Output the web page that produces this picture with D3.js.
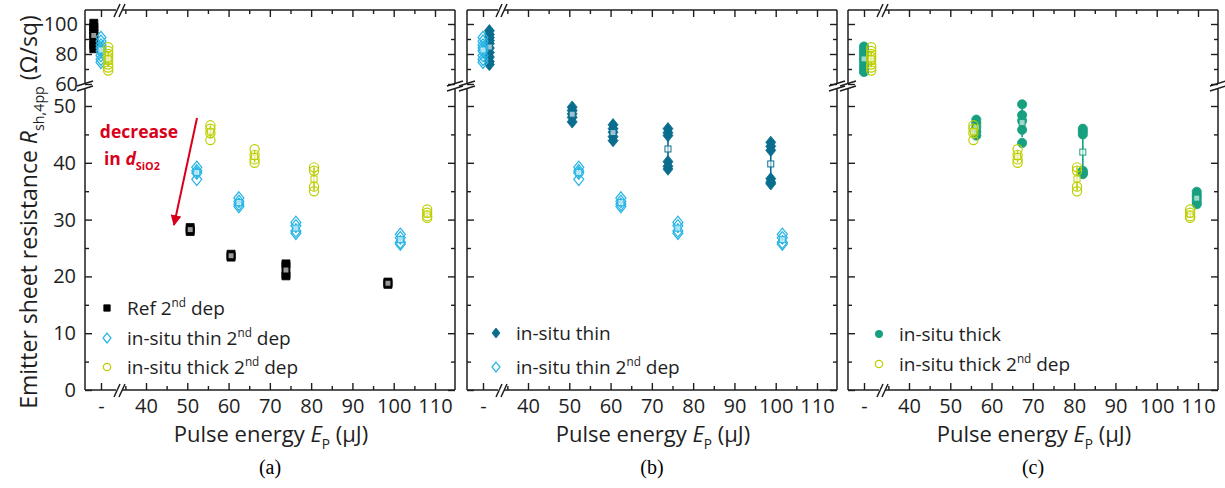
<!DOCTYPE html>
<html>
<head>
<meta charset="utf-8">
<script src="https://cdn.jsdelivr.net/npm/d3@7"></script>
<style>
  body { margin: 0; background: #fff; }
  svg { display: block; font-family: "Open Sans", sans-serif; }
</style>
</head>
<body>
<svg id="chart" width="1225" height="488"></svg>
<script>
// ---- data: pulse energy (uJ) and measured R_sh per laser spot ----
const refEnergy = [50.7, 60.6, 73.9, 98.6];
const refValues = [[28.6, 28.2, 27.9], [23.9, 23.6, 23.4], [22.2, 21.8, 20.4, 20.1], [19.0, 18.8, 18.6]];
const refUntreated = [100.5, 98, 96, 94, 92, 89, 86, 83.5];

const thin2Energy = [52.3, 62.5, 76.3, 101.6];
const thin2Values = [[39.2, 38.6, 38.2, 37.1], [33.8, 33.2, 32.7, 32.3], [29.5, 28.9, 28.0, 27.6], [27.4, 26.8, 26.0, 25.7]];
const thin2Untreated = [91, 88.5, 86, 84, 82, 79, 76.5, 74.5];

const thick2Energy = [55.6, 66.3, 80.7, 108.1];
const thick2Values = [[46.6, 46.0, 45.2, 44.0], [42.4, 41.4, 40.6, 40.0], [39.2, 38.6, 35.8, 35.0], [31.8, 31.2, 30.6, 30.3]];
const thick2Untreated = [84.5, 82, 80, 78, 76, 73, 71, 69];

const thinEnergy = [50.7, 60.6, 73.9, 98.8];
const thinValues = [[49.8, 49.2, 48.6, 48.0, 47.2], [46.7, 46.0, 45.4, 44.6, 43.9], [46.0, 45.3, 44.8, 40.2, 39.4, 38.9], [43.6, 42.9, 42.2, 37.2, 36.6, 36.3]];
const thinUntreated = [95.5, 93, 91, 89, 87, 84, 81, 78, 75, 73];

const thickEnergy = [56.3, 67.4, 82.1, 109.7];
const thickValues = [[47.6, 47.0, 46.3, 45.5, 44.8], [50.3, 48.4, 47.4, 45.8, 43.5], [46.0, 45.5, 45.0, 38.6, 38.2, 38.0], [34.9, 34.3, 33.8, 33.2, 32.7]];
const thickUntreated = [85, 83, 81, 79, 77, 75, 72.5, 70, 68];

// slot of each series inside the "-" (no laser) category
const untreatedSlot = { ref: -0.45, thin2: 0, thin: 0.4, thick: 0, thick2: 0.45 };

const energyTicks = [40, 50, 60, 70, 80, 90, 100, 110];
const energyMinor = [35, 45, 55, 65, 75, 85, 95, 105];
const lowTicks = [0, 10, 20, 30, 40, 50];
const lowMinor = [5, 15, 25, 35, 45];
const upTicks = [60, 80, 100];
const upMinor = [70, 90];

const series = {
  ref:    { color: "#000000", shape: "square",  filled: true,  energy: refEnergy,    values: refValues,    untreated: refUntreated },
  thin2:  { color: "#27b4e4", shape: "diamond", filled: false, energy: thin2Energy,  values: thin2Values,  untreated: thin2Untreated },
  thick2: { color: "#bccf00", shape: "circle",  filled: false, energy: thick2Energy, values: thick2Values, untreated: thick2Untreated },
  thin:   { color: "#0a6d8e", shape: "diamond", filled: true,  energy: thinEnergy,   values: thinValues,   untreated: thinUntreated },
  thick:  { color: "#17a07f", shape: "circle",  filled: true,  energy: thickEnergy,  values: thickValues,  untreated: thickUntreated }
};

const panels = [
  { left: 85,  label: "(a)", draw: ["ref", "thin2", "thick2"],
    legend: [["ref", [["Ref 2"], ["nd", "sup"], [" dep"]]], ["thin2", [["in-situ thin 2"], ["nd", "sup"], [" dep"]]], ["thick2", [["in-situ thick 2"], ["nd", "sup"], [" dep"]]]],
    legX: 22, legY: [308, 338, 367] },
  { left: 467, label: "(b)", draw: ["thin", "thin2"],
    legend: [["thin", [["in-situ thin"]]], ["thin2", [["in-situ thin 2"], ["nd", "sup"], [" dep"]]]],
    legX: 29, legY: [333, 367] },
  { left: 848, label: "(c)", draw: ["thick", "thick2"],
    legend: [["thick", [["in-situ thick"]]], ["thick2", [["in-situ thick 2"], ["nd", "sup"], [" dep"]]]],
    legX: 31, legY: [334, 364] }
];

const W = 370, plotTop = 10, plotBottom = 390, upEnd = 83, lowStart = 89;
const ink = "#1e1e1e";
const svg = d3.select("#chart");

const yU = d3.scaleLinear().domain([60, 100]).range([84, 24]);
const yL = d3.scaleLinear().domain([0, 50]).range([plotBottom, 106]);

function markerPath(shape, scale) {
  if (shape === "square") { const h = 4 * scale; return `M${-h},${-h}h${2 * h}v${2 * h}h${-2 * h}Z`; }
  if (shape === "diamond") { const w = 5 * scale, h = 6.2 * scale; return `M0,${-h}L${w},0L0,${h}L${-w},0Z`; }
  return d3.symbol(d3.symbolCircle, Math.PI * Math.pow(4.6 * scale, 2))();
}

function rich(text, parts, size) {
  let shift = 0;
  parts.forEach(([t, kind]) => {
    const target = kind === "sup" ? -0.42 * size : kind === "sub" ? 0.3 * size : 0;
    const ts = text.append("tspan").attr("dy", target - shift).text(t);
    shift = target;
    if (kind === "sup" || kind === "sub") ts.attr("font-size", size * 0.62);
    if (kind === "it") ts.attr("font-style", "italic");
  });
}

function strip(g) { g.select(".domain").remove(); g.selectAll("text").attr("fill", ink).attr("font-family", "Open Sans"); g.selectAll("line").attr("stroke", ink).attr("stroke-width", 1.4); }

panels.forEach((p, pi) => {
  const L = p.left, R = L + W;
  const g = svg.append("g");
  const xR = d3.scaleLinear().domain([40, 110]).range([L + 61, L + 61 + 289]);
  const xC = d3.scaleLinear().domain([-1, 1]).range([L, L + 32]);

  // frame with breaks
  const frame = g.append("g").attr("stroke", ink).attr("stroke-width", 1.5).attr("fill", "none");
  [L, R].forEach(x => {
    frame.append("line").attr("x1", x).attr("x2", x).attr("y1", plotTop).attr("y2", upEnd);
    frame.append("line").attr("x1", x).attr("x2", x).attr("y1", lowStart).attr("y2", plotBottom);
    [0, 5].forEach(o => frame.append("line").attr("x1", x - 8).attr("x2", x + 8).attr("y1", 86 + o).attr("y2", 81 + o));
  });
  [plotTop, plotBottom].forEach(y => {
    frame.append("line").attr("x1", L).attr("x2", L + 31).attr("y1", y).attr("y2", y);
    frame.append("line").attr("x1", L + 37).attr("x2", R).attr("y1", y).attr("y2", y);
    [0, 5].forEach(o => frame.append("line").attr("x1", L + 29 + o).attr("x2", L + 35 + o).attr("y1", y + 7).attr("y2", y - 6));
  });

  // y axes (inward ticks)
  const lab = pi === 0;
  g.append("g").attr("transform", `translate(${L},0)`).call(d3.axisLeft(yL).tickValues(lowTicks).tickSize(-7).tickPadding(9).tickFormat(lab ? d3.format("d") : () => "")).call(strip);
  g.append("g").attr("transform", `translate(${L},0)`).call(d3.axisLeft(yL).tickValues(lowMinor).tickSize(-4).tickFormat("")).call(strip);
  g.append("g").attr("transform", `translate(${L},0)`).call(d3.axisLeft(yU).tickValues(upTicks).tickSize(-7).tickPadding(7).tickFormat(lab ? d3.format("d") : () => "")).call(strip);
  g.append("g").attr("transform", `translate(${L},0)`).call(d3.axisLeft(yU).tickValues(upMinor).tickSize(-4).tickFormat("")).call(strip);
  g.append("g").attr("transform", `translate(${R},0)`).call(d3.axisRight(yL).tickValues(lowTicks).tickSize(-7).tickFormat("")).call(strip);
  g.append("g").attr("transform", `translate(${R},0)`).call(d3.axisRight(yL).tickValues(lowMinor).tickSize(-4).tickFormat("")).call(strip);
  g.append("g").attr("transform", `translate(${R},0)`).call(d3.axisRight(yU).tickValues(upTicks).tickSize(-7).tickFormat("")).call(strip);
  g.append("g").attr("transform", `translate(${R},0)`).call(d3.axisRight(yU).tickValues(upMinor).tickSize(-4).tickFormat("")).call(strip);

  // x axes
  g.append("g").attr("transform", `translate(0,${plotBottom})`).call(d3.axisBottom(xR).tickValues(energyTicks).tickSize(-7).tickPadding(9).tickFormat(d3.format("d"))).call(strip);
  g.append("g").attr("transform", `translate(0,${plotBottom})`).call(d3.axisBottom(xR).tickValues(energyMinor).tickSize(-4).tickFormat("")).call(strip);
  g.append("g").attr("transform", `translate(0,${plotBottom})`).call(d3.axisBottom(xC).tickValues([0]).tickSize(-7).tickPadding(9).tickFormat(() => "-")).call(strip);
  g.append("g").attr("transform", `translate(0,${plotTop})`).call(d3.axisTop(xR).tickValues(energyTicks).tickSize(-7).tickFormat("")).call(strip);
  g.append("g").attr("transform", `translate(0,${plotTop})`).call(d3.axisTop(xR).tickValues(energyMinor).tickSize(-4).tickFormat("")).call(strip);
  g.append("g").attr("transform", `translate(0,${plotTop})`).call(d3.axisTop(xC).tickValues([0]).tickSize(-7).tickFormat("")).call(strip);
  g.selectAll(".tick text").attr("font-size", 20);

  // data
  p.draw.forEach(key => {
    const s = series[key];
    const clusters = s.energy.map((e, i) => ({ x: xR(e), vals: s.values[i], y: yL }));
    clusters.push({ x: xC(untreatedSlot[key]), vals: s.untreated, y: yU });
    const sg = g.append("g");
    clusters.forEach(c => {
      sg.selectAll(null).data(c.vals).join("path")
        .attr("d", markerPath(s.shape, 1))
        .attr("transform", v => `translate(${c.x},${c.y(v)})`)
        .attr("fill", s.filled ? s.color : "none")
        .attr("stroke", s.color).attr("stroke-width", s.filled ? 0.8 : 1.2);
      const m = d3.mean(c.vals), sd = d3.deviation(c.vals);
      sg.append("line").attr("x1", c.x).attr("x2", c.x).attr("y1", c.y(m - sd)).attr("y2", c.y(m + sd))
        .attr("stroke", s.color).attr("stroke-width", 1.6);
      sg.append("rect").attr("x", c.x - 3).attr("y", c.y(m) - 3).attr("width", 6).attr("height", 6)
        .attr("fill", "#fff").attr("fill-opacity", 0.6).attr("stroke", s.color).attr("stroke-width", 1);
    });
  });

  // legend
  p.legend.forEach(([key, parts], i) => {
    const s = series[key], y = p.legY[i];
    g.append("path").attr("d", markerPath(s.shape, 0.8)).attr("transform", `translate(${L + p.legX},${y})`)
      .attr("fill", s.filled ? s.color : "none").attr("stroke", s.color).attr("stroke-width", s.filled ? 0.8 : 1.2);
    const t = g.append("text").attr("x", L + p.legX + 20).attr("y", y + 7).attr("font-size", 19).attr("fill", ink);
    rich(t, parts, 19);
  });

  // titles
  const xt = g.append("text").attr("x", L + W / 2 + 1).attr("y", 442).attr("text-anchor", "middle").attr("font-size", 22).attr("fill", ink);
  rich(xt, [["Pulse energy "], ["E", "it"], ["P", "sub"], [" (μJ)"]], 22);
  g.append("text").attr("x", L + W / 2).attr("y", 474).attr("text-anchor", "middle")
    .attr("font-family", "Liberation Serif").attr("font-size", 20).attr("fill", "#000").text(p.label);
});

// y title
const yt = svg.append("text").attr("transform", "translate(37,212) rotate(-90)").attr("text-anchor", "middle")
  .attr("font-size", 23).attr("fill", ink);
rich(yt, [["Emitter sheet resistance "], ["R", "it"], ["sh,4pp", "sub"], [" (Ω/sq)"]], 23);

// annotation
const red = "#d9001b";
svg.append("text").attr("x", 139).attr("y", 138).attr("text-anchor", "middle").attr("font-size", 17.5)
  .attr("font-weight", "bold").attr("fill", red).text("decrease");
const ann = svg.append("text").attr("x", 104).attr("y", 165).attr("font-size", 17.5).attr("font-weight", "bold").attr("fill", red);
rich(ann, [["in "], ["d", "it"], ["SiO2", "sub"]], 17.5);
svg.append("defs").append("marker").attr("id", "ah").attr("viewBox", "0 0 10 10").attr("refX", 9).attr("refY", 5)
  .attr("markerWidth", 5.5).attr("markerHeight", 5.5).attr("orient", "auto")
  .append("path").attr("d", "M0,0L10,5L0,10Z").attr("fill", red);
svg.append("line").attr("x1", 197).attr("y1", 118).attr("x2", 174).attr("y2", 225)
  .attr("stroke", red).attr("stroke-width", 2).attr("marker-end", "url(#ah)");
</script>
</body>
</html>
